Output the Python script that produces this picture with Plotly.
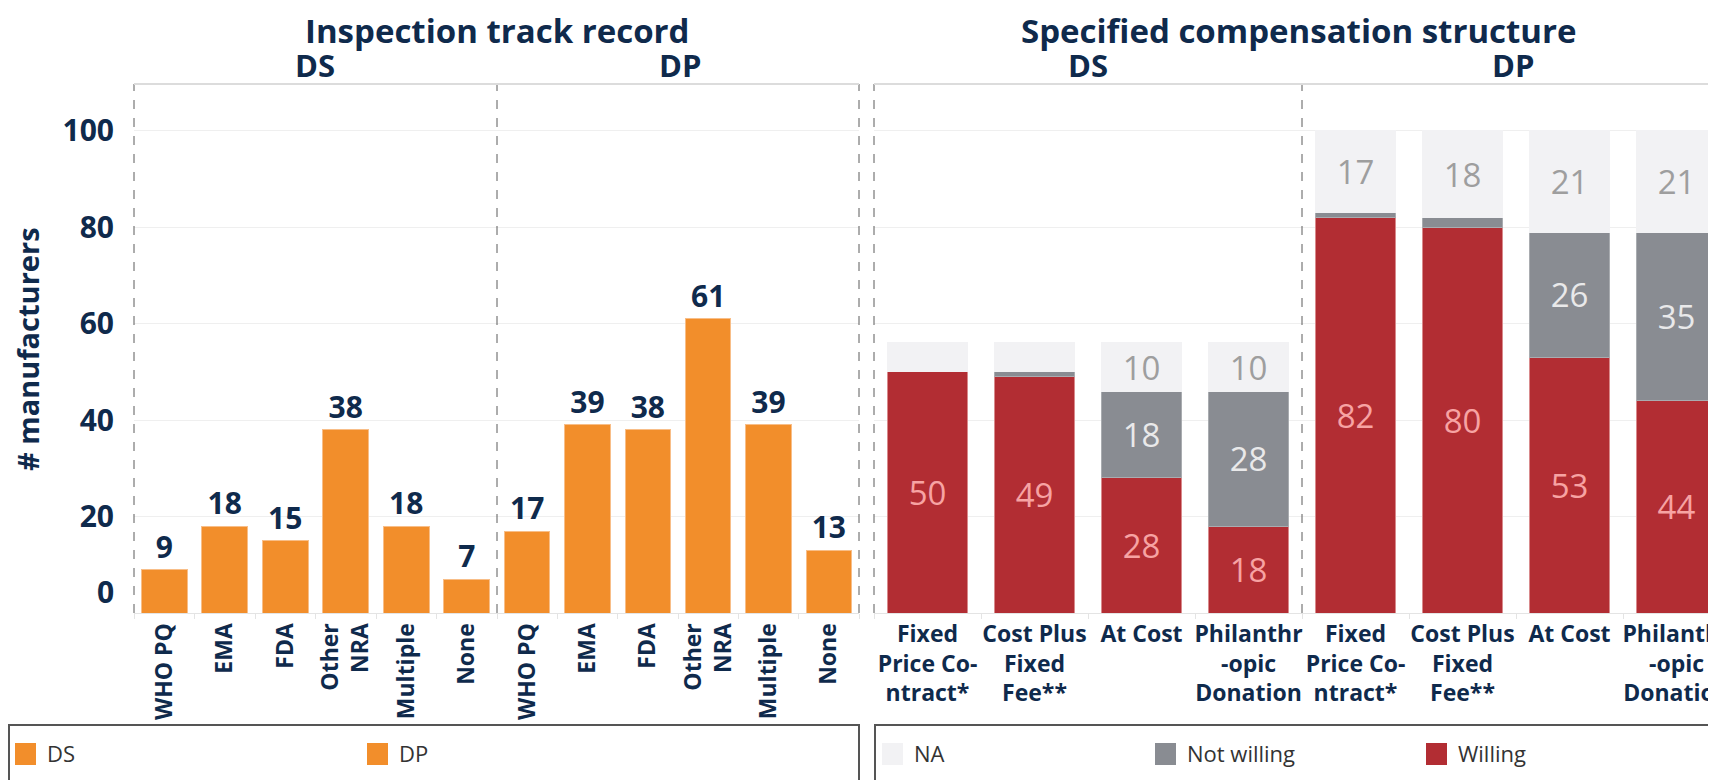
import plotly.graph_objects as go

W, H = 1716, 780

# ---------------- data ----------------
insp_cats = ["WHO PQ", "EMA", "FDA", "Other NRA", "Multiple", "None"]
insp_ticks = ["WHO PQ", "EMA", "FDA", "Other<br>NRA", "Multiple", "None"]
insp_ds = [9, 18, 15, 38, 18, 7]
insp_dp = [17, 39, 38, 61, 39, 13]

comp_cats = ["Fixed Price Contract*", "Cost Plus Fixed Fee**", "At Cost", "Philanthropic Donation"]
comp_ticks = ["Fixed<br>Price Co-<br>ntract*", "Cost Plus<br>Fixed<br>Fee**", "At Cost", "Philanthr<br>-opic<br>Donation"]
ds_willing = [50, 49, 28, 18]
ds_not_willing = [0, 1, 18, 28]
ds_na = [6, 6, 10, 10]
dp_willing = [82, 80, 53, 44]
dp_not_willing = [1, 2, 26, 35]
dp_na = [17, 18, 21, 21]

y_ticks = [0, 20, 40, 60, 80, 100]
y_max = 109.7

# ---------------- style ----------------
FONT = "Open Sans"
NAVY = "#0F2A4C"
ORANGE = "#F28E2B"
RED = "#B22D33"
GRAY = "#898C92"
NA_C = "#F2F2F4"


def px(x):
    return x / W


def py(y):
    return 1 - y / H


Y_DOM = [py(605), py(76)]
X_DOMS = [
    [px(126), px(489)],
    [px(489), px(851)],
    [px(866), px(1294)],
    [px(1294), 1.0],
]


def lbl(vals, minimum=10):
    return [str(v) if v >= minimum else "" for v in vals]


fig = go.Figure()

# left: inspection track record
for i, vals in enumerate([insp_ds, insp_dp]):
    fig.add_trace(go.Bar(
        x=insp_cats, y=vals,
        xaxis="x" if i == 0 else "x2", yaxis="y" if i == 0 else "y2",
        name="DS" if i == 0 else "DP",
        marker=dict(color=ORANGE, line=dict(color="#F8BE88", width=1)),
        text=[str(v) for v in vals], textposition="outside",
        textfont=dict(family=FONT, size=30, color=NAVY, weight="bold"),
        cliponaxis=False, showlegend=False, hoverinfo="x+y",
    ))

# right: compensation structure (stacked)
panels = [
    ("x3", "y3", ds_willing, ds_not_willing, ds_na),
    ("x4", "y4", dp_willing, dp_not_willing, dp_na),
]
for xa, ya, wil, nwil, na in panels:
    for name, vals, col, lcol, tcol in [
        ("Willing", wil, RED, "#D98A8C", "#F7A3A3"),
        ("Not willing", nwil, GRAY, "#A9ACB0", "#E9E9EA"),
        ("NA", na, NA_C, NA_C, "#9E9E9E"),
    ]:
        fig.add_trace(go.Bar(
            x=comp_cats, y=vals, xaxis=xa, yaxis=ya, name=name,
            marker=dict(color=col, line=dict(color=lcol, width=1)),
            text=lbl(vals), textposition="inside", insidetextanchor="middle",
            textangle=0, constraintext="none",
            textfont=dict(family=FONT, size=33, color=tcol),
            showlegend=False, hoverinfo="x+y+name",
        ))

common_x = dict(type="category", showline=True, linecolor="#E4E4E4", linewidth=1,
                ticks="outside", tickson="boundaries", ticklen=5, tickcolor="#E4E4E4",
                showgrid=False, zeroline=False, fixedrange=True)
common_y = dict(domain=Y_DOM, range=[0, y_max], showgrid=True, gridcolor="#EFEFEF",
                gridwidth=1, zeroline=False, showline=False, ticks="",
                tickvals=y_ticks[1:], fixedrange=True)

layout_axes = {}
for k, (dom, cats, ticks, angle, fsize) in enumerate([
    (X_DOMS[0], insp_cats, insp_ticks, -90, 23),
    (X_DOMS[1], insp_cats, insp_ticks, -90, 23),
    (X_DOMS[2], comp_cats, comp_ticks, 0, 23),
    (X_DOMS[3], comp_cats, comp_ticks, 0, 23),
]):
    sfx = "" if k == 0 else str(k + 1)
    xa = dict(common_x, domain=dom, anchor="y" + sfx, tickvals=cats, ticktext=ticks,
              tickangle=angle,
              tickfont=dict(family=FONT, size=fsize, color=NAVY, weight="bold"))
    if k == 3:
        xa["range"] = [-0.5, -0.5 + len(cats) * (1716 - 1294) / 428]
    else:
        xa["range"] = [-0.5, len(cats) - 0.5]
    ya = dict(common_y, anchor="x" + sfx,
              showticklabels=(k == 0),
              tickfont=dict(family=FONT, size=30, color=NAVY, weight="bold"),
              ticklabelstandoff=19)
    layout_axes["xaxis" + sfx] = xa
    layout_axes["yaxis" + sfx] = ya

fig.update_layout(
    width=W, height=H,
    margin=dict(l=0, r=0, t=0, b=0, autoexpand=False),
    paper_bgcolor="white", plot_bgcolor="white",
    barmode="stack", bargap=0.245,
    font=dict(family=FONT, color=NAVY),
    showlegend=False,
    **layout_axes,
)

shapes = []
# panel borders (dashed verticals) and top lines
for x in [126, 489, 851, 866, 1294]:
    shapes.append(dict(type="line", xref="paper", yref="paper", x0=px(x), x1=px(x),
                       y0=Y_DOM[0], y1=Y_DOM[1], line=dict(color="#5A5A5A", width=1, dash="dash")))
for x0, x1 in [(126, 851), (866, 1716)]:
    shapes.append(dict(type="line", xref="paper", yref="paper", x0=px(x0), x1=px(x1),
                       y0=Y_DOM[1], y1=Y_DOM[1], line=dict(color="#DCDCDC", width=2)))
# legend boxes
for x0, x1 in [(1, 851), (867, 1714)]:
    shapes.append(dict(type="rect", xref="paper", yref="paper", x0=px(x0), x1=px(x1),
                       y0=py(778), y1=py(717), line=dict(color="#555555", width=2),
                       fillcolor="rgba(0,0,0,0)"))

legend_items = [
    ("DS", ORANGE, 7, 37),
    ("DP", ORANGE, 359, 389),
    ("NA", NA_C, 874, 904),
    ("Not willing", GRAY, 1147, 1177),
    ("Willing", RED, 1418, 1448),
]
annotations = []
for text, col, sx, tx in legend_items:
    shapes.append(dict(type="rect", xref="paper", yref="paper", x0=px(sx), x1=px(sx + 21),
                       y0=py(757), y1=py(735), line=dict(width=0), fillcolor=col))
    annotations.append(dict(text=text, xref="paper", yref="paper", x=px(tx), y=py(745),
                            xanchor="left", yanchor="middle", showarrow=False,
                            font=dict(family=FONT, size=22, color="#333333")))

# titles
for text, x, y, size in [
    ("Inspection track record", 489, 22, 33),
    ("Specified compensation structure", 1291, 22, 33),
    ("DS", 307, 57, 31),
    ("DP", 672, 57, 31),
    ("DS", 1080, 57, 31),
    ("DP", 1505, 57, 31),
]:
    annotations.append(dict(text=text, xref="paper", yref="paper", x=px(x), y=py(y),
                            xanchor="center", yanchor="middle", showarrow=False,
                            font=dict(family=FONT, size=size, color=NAVY, weight="bold")))

# y axis title
annotations.append(dict(text="# manufacturers", xref="paper", yref="paper", x=px(19), y=py(341),
                        textangle=-90, xanchor="center", yanchor="middle", showarrow=False,
                        font=dict(family=FONT, size=29, color=NAVY, weight="bold")))
# bottom tick label "0" (shifted up to stay inside pane)
annotations.append(dict(text=str(y_ticks[0]), xref="paper", yref="y", x=px(108), y=y_ticks[0],
                        yshift=22, xanchor="right", yanchor="middle", showarrow=False,
                        font=dict(family=FONT, size=30, color=NAVY, weight="bold")))

fig.update_layout(shapes=shapes, annotations=annotations)

fig.write_html("out.html")
